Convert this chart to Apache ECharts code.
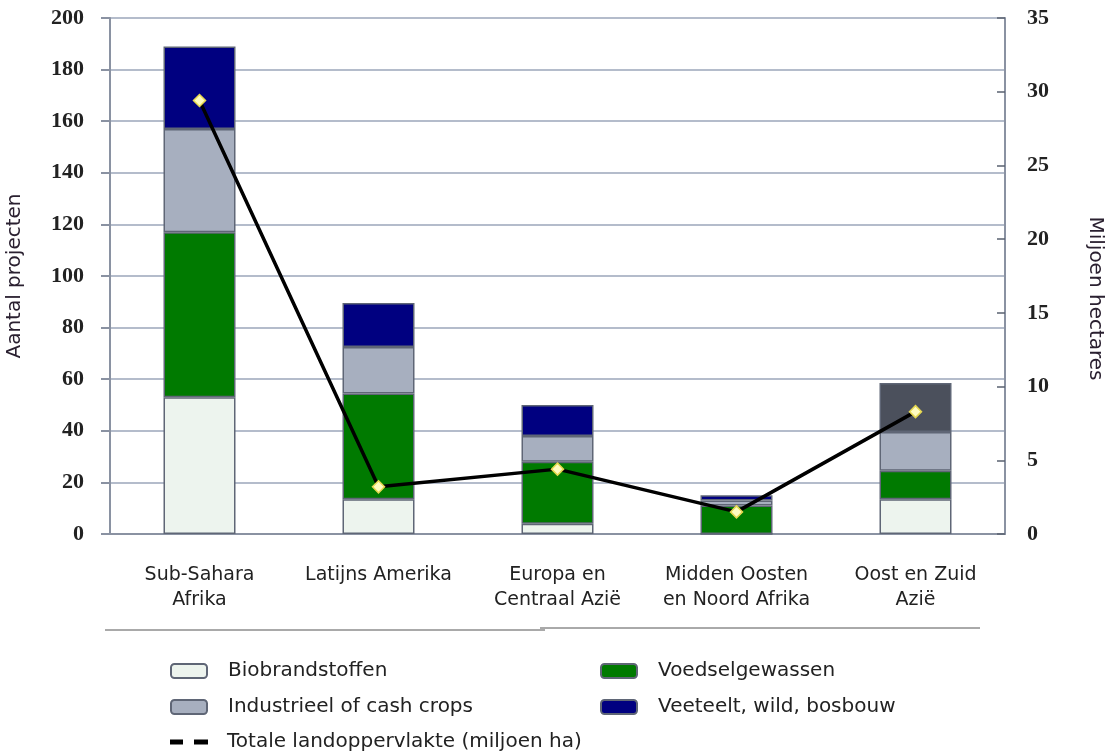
<!DOCTYPE html>
<html>
<head>
<meta charset="utf-8">
<script src="https://cdn.jsdelivr.net/npm/echarts@6/dist/echarts.min.js"></script>
<style>
  html, body { margin: 0; padding: 0; background: #fff; }
  #main { width: 1107px; height: 751px; }
</style>
</head>
<body>
<div id="main"></div>
<script>
var regios = ['Sub-Sahara\nAfrika', 'Latijns Amerika', 'Europa en\nCentraal Azië', 'Midden Oosten\nen Noord Afrika', 'Oost en Zuid\nAzië'];
var biobrandstoffen = [53, 13.5, 4, 0, 13.5];
var voedselgewassen = [64, 41, 24, 11, 11];
var industrieel = [40, 18, 10, 2, 15];
var veeteelt = [32, 17, 12, 2, 19];
var landoppervlakte = [29.4, 3.2, 4.4, 1.5, 8.3];
var linksTicks = [0, 200, 20];
var rechtsTicks = [0, 35, 5];

var myChart = echarts.init(document.getElementById('main'));

var randKleur = '#5f6676';
function staaf(naam, data, kleur) {
    return {
        name: naam,
        type: 'bar',
        stack: 'totaal',
        barWidth: 72,
        data: data,
        itemStyle: { color: kleur, borderColor: randKleur, borderWidth: 1.5 }
    };
}
// laatste staaf heeft een donkergrijze bovenkant
var veeteeltData = veeteelt.map(function (v, i) {
    return i === 4 ? { value: v, itemStyle: { color: '#4b505c' } } : v;
});

function legenda(naam, x, y, extra, w, h) {
    var item = { name: naam, icon: 'roundRect' };
    for (var k in extra) item[k] = extra[k];
    return {
        left: x, top: y,
        data: [item],
        itemWidth: w, itemHeight: h,
        textStyle: { fontFamily: 'DejaVu Sans', fontSize: 20, color: '#222', padding: [0, 0, 0, 16 - (w - 36)] }
    };
}

var option = {
    animation: false,
    backgroundColor: '#fff',
    grid: { left: 110, right: 102, top: 18, bottom: 217, outerBoundsMode: 'none', containLabel: false },
    legend: [
        legenda('Biobrandstoffen', 165, 656, {}, 36, 14),
        legenda('Voedselgewassen', 595, 656, {}, 36, 14),
        legenda('Industrieel of cash crops', 165, 692, {}, 36, 14),
        legenda('Veeteelt, wild, bosbouw', 595, 692, {}, 36, 14),
        legenda('Totale landoppervlakte (miljoen ha)', 165, 727, {
            icon: 'path://M0,0h13v5h-13z M24,0h14v5h-14z',
            itemStyle: { color: '#000', borderWidth: 0 }
        }, 38, 5)
    ],
    xAxis: {
        type: 'category',
        data: regios,
        axisLine: { lineStyle: { color: '#8a92a2', width: 2 } },
        axisTick: { show: false },
        axisLabel: { interval: 0, hideOverlap: false, fontFamily: 'DejaVu Sans', fontSize: 19, color: '#222', margin: 29, lineHeight: 25 }
    },
    yAxis: [{
        type: 'value',
        min: linksTicks[0], max: linksTicks[1], interval: linksTicks[2],
        name: 'Aantal projecten',
        nameLocation: 'middle',
        nameGap: 85,
        nameTextStyle: { fontFamily: 'DejaVu Sans', fontSize: 20, color: '#2a2030' },
        axisLine: { show: true, lineStyle: { color: '#8a92a2', width: 2 } },
        axisTick: { show: true, length: 9, lineStyle: { color: '#8a92a2', width: 2 } },
        axisLabel: { fontFamily: 'Liberation Serif', fontWeight: 'bold', fontSize: 22, color: '#222', margin: 26 },
        splitLine: { lineStyle: { color: '#b4bccb', width: 2 } }
    }, {
        type: 'value',
        position: 'right',
        min: rechtsTicks[0], max: rechtsTicks[1], interval: rechtsTicks[2],
        name: 'Miljoen hectares',
        nameLocation: 'middle',
        nameRotate: -90,
        nameGap: 80,
        nameTextStyle: { fontFamily: 'DejaVu Sans', fontSize: 20, color: '#2a2030', padding: [0, 0, 0, 45] },
        axisLine: { show: true, lineStyle: { color: '#8a92a2', width: 2 } },
        axisTick: { show: true, inside: true, length: 8, lineStyle: { color: '#5a6270', width: 1.5 } },
        axisLabel: { fontFamily: 'Liberation Serif', fontWeight: 'bold', fontSize: 22, color: '#222', margin: 22 },
        splitLine: { show: false }
    }],
    graphic: [
        { type: 'line', shape: { x1: 105, y1: 630, x2: 545, y2: 630 }, style: { stroke: '#555', lineWidth: 1 } },
        { type: 'line', shape: { x1: 540, y1: 628, x2: 980, y2: 628 }, style: { stroke: '#555', lineWidth: 1 } }
    ],
    series: [
        staaf('Biobrandstoffen', biobrandstoffen, '#edf4ee'),
        staaf('Voedselgewassen', voedselgewassen, '#007a00'),
        staaf('Industrieel of cash crops', industrieel, '#a7afbf'),
        staaf('Veeteelt, wild, bosbouw', veeteeltData, '#000080'),
        {
            name: 'Totale landoppervlakte (miljoen ha)',
            type: 'line',
            yAxisIndex: 1,
            data: landoppervlakte,
            symbol: 'diamond',
            symbolSize: 12,
            lineStyle: { color: '#000', width: 3.5 },
            itemStyle: { color: '#fffcc0', borderColor: '#e6d850', borderWidth: 1.5 },
            z: 5
        }
    ]
};
myChart.setOption(option);
</script>
</body>
</html>
